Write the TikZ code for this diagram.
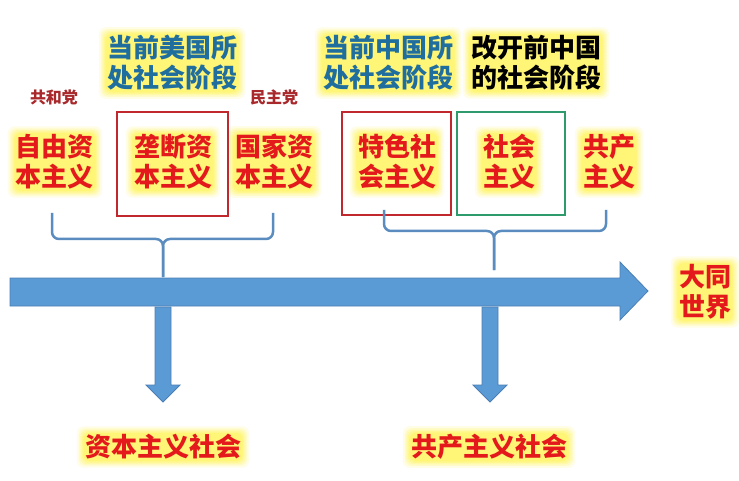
\documentclass[tikz,border=0pt]{standalone}
\usepackage{fontspec}
\setmainfont{Noto Sans CJK SC}
\usetikzlibrary{backgrounds}
\definecolor{hblue}{HTML}{1F6E9E}
\definecolor{tred}{HTML}{E3191B}
\definecolor{bred}{HTML}{C0282E}
\definecolor{bgreen}{HTML}{2E9B6C}
\definecolor{afill}{HTML}{5B9BD5}
\definecolor{aline}{HTML}{4A7EB5}
\definecolor{bracec}{HTML}{5A8CC0}
\definecolor{partyc}{HTML}{A8282B}
\definecolor{glowc}{HTML}{FFEE00}
\tikzset{
  big/.style={font=\fontsize{26}{30}\selectfont\bfseries, align=center, inner sep=1pt},
  head/.style={big, text=hblue},
  lab/.style={big, text=tred},
  partylab/.style={font=\fontsize{16}{20}\selectfont\bfseries, text=partyc, inner sep=1pt},
  stagebox/.style={line width=2.5pt},
  bracestyle/.style={draw=bracec, line width=2.5pt, rounded corners=7pt},
  arrowshape/.style={fill=afill, draw=aline, line width=0.8pt},
}
\newcommand\myglow[1]{%
  \begin{scope}[on background layer]
    \foreach \g/\o in {7/0.1,5/0.12,3.5/0.14,2/0.16,0.5/0.18}
      \fill[glowc, opacity=\o, rounded corners=7pt]
        ([shift={(-\g pt,\g pt)}]#1.north west) rectangle ([shift={(\g pt,-\g pt)}]#1.south east);
  \end{scope}}
\begin{document}
\begin{tikzpicture}[x=1pt,y=-1pt]
\useasboundingbox (0,0) rectangle (739,481);
\begin{scope}[on background layer]
  \fill[white] (0,0) rectangle (739,481);
\end{scope}

% main arrow
\draw[arrowshape] (10,278) -- (620,278) -- (620,262) -- (648,291) -- (620,320) -- (620,306) -- (10,306) -- cycle;
% down arrows
\draw[arrowshape] (155,307) -- (171,307) -- (171,385) -- (180,385) -- (163,402) -- (146,385) -- (155,385) -- cycle;
\draw[arrowshape] (482,307) -- (498,307) -- (498,385) -- (507,385) -- (490,402) -- (473,385) -- (482,385) -- cycle;

% boxes
\draw[stagebox, bred] (117,112) rectangle (228,216);
\draw[stagebox, bred] (342,112) rectangle (451,215);
\draw[stagebox, bgreen] (457,112) rectangle (565,215);

% braces
\coordinate (lb1) at (52,213);
\coordinate (lb2) at (273,213);
\coordinate (lbm) at (163,277);
\coordinate (rb1) at (384,210);
\coordinate (rb2) at (606,210);
\coordinate (rbm) at (494,270);
\draw[bracestyle] (lb1) -- (52,239) -- (163,239) -- (lbm);
\draw[bracestyle] (lb2) -- (273,239) -- (163,239) -- (lbm);
\draw[bracestyle] (rb1) -- (384,231) -- (494,231) -- (rbm);
\draw[bracestyle] (rb2) -- (606,231) -- (494,231) -- (rbm);

% texts
\node[head] (us) at (172,63) {当前美国所\\处社会阶段};
\node[head] (cn) at (388,63) {当前中国所\\处社会阶段};
\node[head, text=black] (pre) at (536,63) {改开前中国\\的社会阶段};
\node[partylab] (gop) at (54,97) {共和党};
\node[partylab] (dem) at (274,97) {民主党};
\node[lab] (free) at (55,162) {自由资\\本主义};
\node[lab] (mono) at (173,162) {垄断资\\本主义};
\node[lab] (state) at (274,162) {国家资\\本主义};
\node[lab] (spec) at (397,162) {特色社\\会主义};
\node[lab] (soc) at (509,162) {社会\\主义};
\node[lab] (com) at (609,162) {共产\\主义};
\node[lab] (dt) at (705,292) {大同\\世界};
\node[lab] (cap) at (163,447) {资本主义社会};
\node[lab] (comsoc) at (489,447) {共产主义社会};

\myglow{us}\myglow{cn}\myglow{pre}
\myglow{free}\myglow{mono}\myglow{state}\myglow{spec}\myglow{soc}\myglow{com}
\myglow{dt}\myglow{cap}\myglow{comsoc}
\end{tikzpicture}
\end{document}
